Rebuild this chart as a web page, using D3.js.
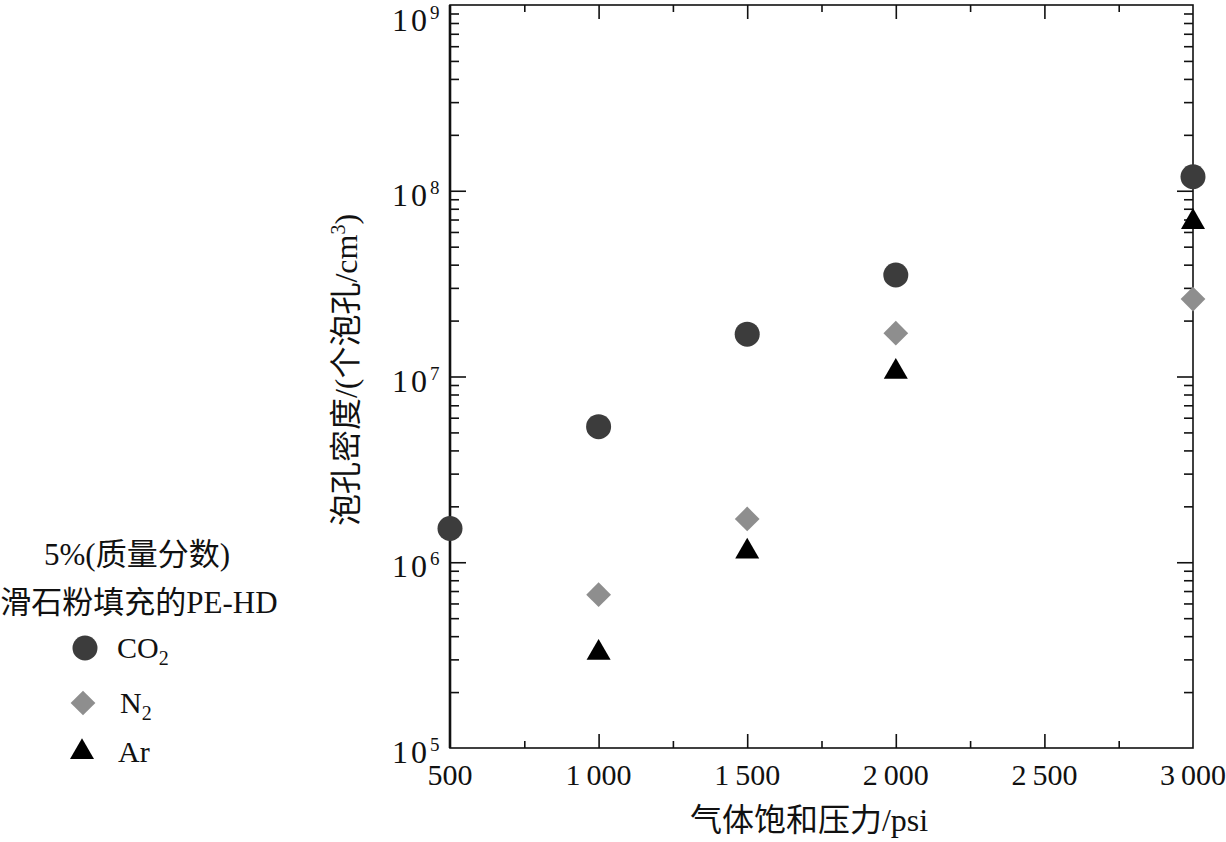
<!DOCTYPE html>
<html>
<head>
<meta charset="utf-8">
<script src="https://cdn.jsdelivr.net/npm/d3@7"></script>
<style>
  body { margin: 0; background: #fff; }
  text { font-family: "Liberation Serif", "Noto Sans CJK SC", serif; fill: #111; }
</style>
</head>
<body>
<div id="chart"></div>
<script>
// Data
var pressures = [500, 1000, 1500, 2000, 3000];
var co2Density = [1.52e6, 5.37e6, 1.69e7, 3.52e7, 1.19e8];
var n2Pressures = [1000, 1500, 2000, 3000];
var n2Density = [6.69e5, 1.71e6, 1.71e7, 2.61e7];
var arPressures = [1000, 1500, 2000, 3000];
var arDensity = [3.25e5, 1.14e6, 1.06e7, 6.79e7];
var xMajorTicks = [500, 1000, 1500, 2000, 2500, 3000];
var xMinorTicks = [750, 1250, 1750, 2250, 2750];
var yExponents = [5, 6, 7, 8, 9];

// Placement
var width = 1226;
var height = 842;
var plot = { left: 450, right: 1193, top: 5, bottom: 748 };

var svg = d3
  .select("#chart")
  .append("svg")
  .attr("width", width)
  .attr("height", height);

// Scales
var xScale = d3.scaleLinear().domain([500, 3000]).range([plot.left, plot.right]);
var yScale = d3.scaleLog().domain([1e5, 1e9]).range([plot.bottom, plot.top]);

var yMajor = yExponents.map(function(e) { return Math.pow(10, e); });
var yMinor = yScale.ticks().filter(function(v) {
  return yMajor.indexOf(v) < 0;
});

////////// Axes (ticks pointing inward on all four sides) //////////
function addAxis(axis, cls, transform) {
  var g = svg.append("g").attr("class", cls).attr("transform", transform).call(axis);
  g.selectAll("text").remove();
  g.select(".domain").remove();
  g.selectAll("line").attr("stroke", "#111").attr("stroke-width", 1.6);
  return g;
}

var bottomT = "translate(0," + plot.bottom + ")";
var topT = "translate(0," + plot.top + ")";
var leftT = "translate(" + plot.left + ",0)";
var rightT = "translate(" + plot.right + ",0)";

addAxis(d3.axisBottom(xScale).tickValues(xMajorTicks.slice(1, 5)).tickSize(-14), "xMajB", bottomT);
addAxis(d3.axisBottom(xScale).tickValues(xMinorTicks).tickSize(-7), "xMinB", bottomT);
addAxis(d3.axisTop(xScale).tickValues(xMajorTicks.slice(1, 5)).tickSize(-14), "xMajT", topT);
addAxis(d3.axisTop(xScale).tickValues(xMinorTicks).tickSize(-7), "xMinT", topT);

addAxis(d3.axisLeft(yScale).tickValues(yMajor.slice(1, 4)).tickSize(-16), "yMajL", leftT);
addAxis(d3.axisLeft(yScale).tickValues(yMinor).tickSize(-9), "yMinL", leftT);
addAxis(d3.axisRight(yScale).tickValues(yMajor.slice(1, 4)).tickSize(-16), "yMajR", rightT);
addAxis(d3.axisRight(yScale).tickValues(yMinor).tickSize(-9), "yMinR", rightT);

// Frame
svg.append("rect")
  .attr("x", plot.left)
  .attr("y", plot.top)
  .attr("width", plot.right - plot.left)
  .attr("height", plot.bottom - plot.top)
  .attr("fill", "none")
  .attr("stroke", "#111")
  .attr("stroke-width", 1.6);
svg.append("line")
  .attr("x1", plot.left).attr("x2", plot.left)
  .attr("y1", plot.top).attr("y2", plot.bottom)
  .attr("stroke", "#111")
  .attr("stroke-width", 2.6);

// X tick labels, "1 000" style
svg.selectAll(".xLabel")
  .data(xMajorTicks)
  .enter()
  .append("text")
  .attr("class", "xLabel")
  .attr("x", function(d) { return xScale(d); })
  .attr("y", 785)
  .attr("text-anchor", "middle")
  .attr("font-size", 30)
  .text(function(d) {
    var s = String(d);
    return s.length > 3 ? s.slice(0, 1) + "\u2009" + s.slice(1) : s;
  });

// Y tick labels, 10^n (top one pushed down so it stays on the page)
var yLabels = svg.selectAll(".yLabel")
  .data(yExponents)
  .enter()
  .append("text")
  .attr("class", "yLabel")
  .attr("x", 392)
  .attr("y", function(d) { return Math.max(yScale(Math.pow(10, d)) + 15, 31); })
  .attr("font-size", 32)
  .attr("letter-spacing", 3);
yLabels.append("tspan").text("10");
yLabels.append("tspan")
  .attr("dy", -12)
  .attr("font-size", 19)
  .attr("letter-spacing", 0)
  .text(function(d) { return d; });

// Axis titles
svg.append("text")
  .attr("x", 809)
  .attr("y", 831)
  .attr("text-anchor", "middle")
  .attr("font-size", 32)
  .text("气体饱和压力/psi");

var yTitle = svg.append("text")
  .attr("transform", "translate(357,370)rotate(-90)")
  .attr("text-anchor", "middle")
  .attr("font-size", 32);
yTitle.append("tspan").text("泡孔密度/(个泡孔/cm");
yTitle.append("tspan").attr("dy", -12).attr("font-size", 20).text("3");
yTitle.append("tspan").attr("dy", 12).text(")");

////////// Markers //////////
var circleSym = d3.symbol().type(d3.symbolCircle).size(Math.PI * 12.5 * 12.5);
var diamondSym = d3.symbol().type(d3.symbolSquare).size(17.5 * 17.5);
var triangleSym = d3.symbol().type(d3.symbolTriangle).size(250);

function zip(xs, ys) {
  return xs.map(function(x, i) { return { x: x, y: ys[i] }; });
}

svg.selectAll(".co2")
  .data(zip(pressures, co2Density))
  .enter()
  .append("path")
  .attr("class", "co2")
  .attr("d", circleSym)
  .attr("fill", "#3c3c3c")
  .attr("transform", function(d) {
    return "translate(" + xScale(d.x) + "," + yScale(d.y) + ")";
  });

svg.selectAll(".n2")
  .data(zip(n2Pressures, n2Density))
  .enter()
  .append("path")
  .attr("class", "n2")
  .attr("d", diamondSym)
  .attr("fill", "#8e8e8e")
  .attr("transform", function(d) {
    return "translate(" + xScale(d.x) + "," + yScale(d.y) + ")rotate(45)";
  });

svg.selectAll(".ar")
  .data(zip(arPressures, arDensity))
  .enter()
  .append("path")
  .attr("class", "ar")
  .attr("d", triangleSym)
  .attr("fill", "#000")
  .attr("transform", function(d) {
    return "translate(" + xScale(d.x) + "," + yScale(d.y) + ")";
  });

////////// Legend //////////
svg.append("text")
  .attr("x", 137).attr("y", 565)
  .attr("text-anchor", "middle")
  .attr("font-size", 31)
  .text("5%(质量分数)");
svg.append("text")
  .attr("x", 139).attr("y", 613)
  .attr("text-anchor", "middle")
  .attr("font-size", 31)
  .text("滑石粉填充的PE-HD");

var legendItems = [
  { sym: circleSym, fill: "#3c3c3c", x: 85, y: 648, rot: 0, name: "CO", sub: "2", tx: 117 },
  { sym: diamondSym, fill: "#8e8e8e", x: 83, y: 703, rot: 45, name: "N", sub: "2", tx: 120 },
  { sym: triangleSym, fill: "#000", x: 82, y: 752, rot: 0, name: "Ar", sub: "", tx: 118 }
];

legendItems.forEach(function(d) {
  svg.append("path")
    .attr("d", d.sym)
    .attr("fill", d.fill)
    .attr("transform", "translate(" + d.x + "," + d.y + ")rotate(" + d.rot + ")");
  var t = svg.append("text")
    .attr("x", d.tx)
    .attr("y", d.y + 10)
    .attr("font-size", 30);
  t.append("tspan").text(d.name);
  if (d.sub) {
    t.append("tspan").attr("dy", 7).attr("font-size", 20).text(d.sub);
  }
});
</script>
</body>
</html>
